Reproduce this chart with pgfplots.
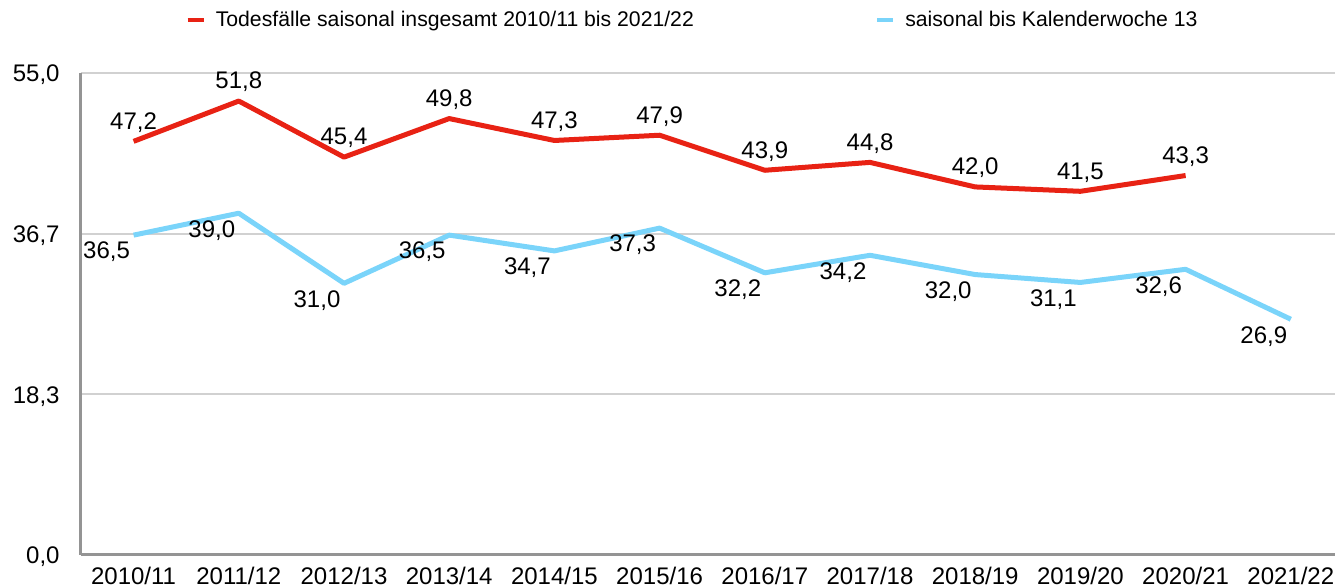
\documentclass[border=0pt]{standalone}
\usepackage{fontspec}
\setmainfont{Liberation Sans}
\usepackage{pgfplots}
\pgfplotsset{compat=1.18}

\definecolor{redline}{RGB}{232,34,20}
\definecolor{blueline}{RGB}{122,212,250}

\begin{document}
\begin{tikzpicture}
\begin{axis}[
  scale only axis, width=627pt, height=241pt,
  xmin=-0.5, xmax=11.42, ymin=0, ymax=55,
  clip=false,
  axis x line*=bottom, axis y line*=left,
  axis line style={draw=black!42, line width=1.5pt, -},
  ymajorgrids, grid style={draw=black!18, line width=1pt},
  major tick length=0pt,
  xtick={0,...,11},
  xticklabels={2010/11,2011/12,2012/13,2013/14,2014/15,2015/16,2016/17,2017/18,2018/19,2019/20,2020/21,2021/22},
  ytick={0,18.3333,36.6667,55},
  /pgf/number format/.cd, use comma, fixed, fixed zerofill, precision=1, assume math mode=true,
  /pgfplots/.cd,
  tick label style={font=\fontsize{12}{14}\selectfont, text=black},
  xticklabel style={anchor=center, inner sep=0pt, yshift=-10.5pt},
  yticklabel style={anchor=east, inner sep=0pt, xshift=-10.5pt, yshift=-1pt},
  legend columns=2,
  legend cell align=left,
  legend style={draw=none, fill=none, inner sep=0pt,
    font=\fontsize{10.6}{12}\selectfont,
    at={(rel axis cs:0,1)}, anchor=west, xshift=52pt, yshift=26.5pt,
    /tikz/column 1/.style={column sep=3pt},
    /tikz/column 3/.style={column sep=3pt},
    /tikz/column 2/.style={column sep=88.5pt}},
  legend image code/.code={\draw[#1, line width=2.2pt] (0pt,0pt) -- (8pt,0pt);},
  every axis plot/.append style={line width=2.5pt, line join=round, mark=none},
  nodes near coords,
  every node near coord/.append style={font=\fontsize{12}{14}\selectfont, text=black, anchor=center, inner sep=0pt},
]
\addplot[redline, nodes near coords style={yshift=9.5pt}] coordinates {
  (0,47.2) (1,51.8) (2,45.4) (3,49.8) (4,47.3) (5,47.9)
  (6,43.9) (7,44.8) (8,42.0) (9,41.5) (10,43.3)
};
\addlegendentry{Todesfälle saisonal insgesamt 2010/11 bis 2021/22}
\addplot[blueline, nodes near coords style={xshift=-13.5pt, yshift=-8.5pt}] coordinates {
  (0,36.5) (1,39.0) (2,31.0) (3,36.5) (4,34.7) (5,37.3)
  (6,32.2) (7,34.2) (8,32.0) (9,31.1) (10,32.6) (11,26.9)
};
\addlegendentry{saisonal bis Kalenderwoche 13}
\end{axis}
\pgfresetboundingbox
\useasboundingbox (-40.5pt,-16.5pt) rectangle (627pt,277.5pt);
\end{tikzpicture}
\end{document}
